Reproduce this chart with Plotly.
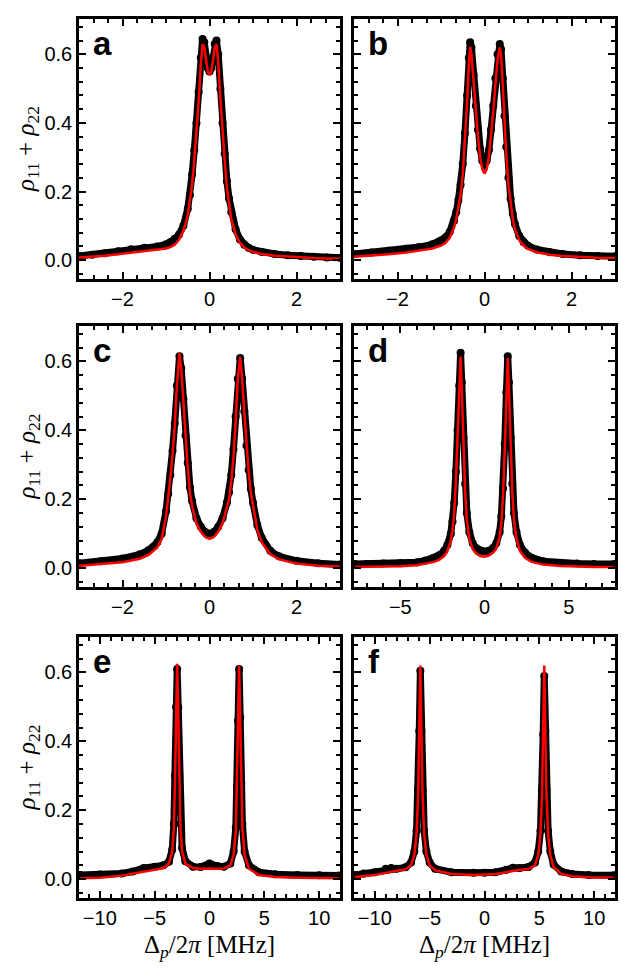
import plotly.graph_objs as go
from plotly.subplots import make_subplots

# panel a
a_x = [-3.0, -2.7, -2.4, -2.1, -1.8, -1.5, -1.2, -1.0, -0.9, -0.8, -0.7, -0.6, -0.5, -0.45, -0.4, -0.35,
       -0.3, -0.25, -0.2, -0.16, -0.12, -0.08, -0.04, 0.0, 0.04, 0.08, 0.12, 0.16, 0.2, 0.25, 0.3, 0.35,
       0.4, 0.45, 0.5, 0.6, 0.7, 0.8, 0.9, 1.0, 1.2, 1.5, 1.8, 2.1, 2.4, 2.7, 3.0]
a_data = [0.012, 0.016, 0.020, 0.026, 0.032, 0.036, 0.040, 0.046, 0.052, 0.062, 0.075, 0.10, 0.15, 0.19,
          0.25, 0.32, 0.40, 0.49, 0.59, 0.645, 0.635, 0.59, 0.56, 0.55, 0.56, 0.59, 0.63, 0.64, 0.60, 0.50,
          0.40, 0.31, 0.23, 0.18, 0.14, 0.09, 0.06, 0.045, 0.036, 0.030, 0.024, 0.018, 0.014, 0.012, 0.010,
          0.008, 0.007]
a_fit = [0.008, 0.010, 0.013, 0.017, 0.022, 0.026, 0.030, 0.034, 0.038, 0.045, 0.060, 0.085, 0.13, 0.17,
         0.22, 0.29, 0.37, 0.46, 0.57, 0.63, 0.62, 0.58, 0.55, 0.54, 0.55, 0.58, 0.62, 0.63, 0.58, 0.47,
         0.37, 0.29, 0.21, 0.16, 0.12, 0.075, 0.05, 0.037, 0.029, 0.024, 0.018, 0.013, 0.010, 0.008, 0.006,
         0.005, 0.004]

# panel b
b_x = [-3.0, -2.6, -2.2, -1.8, -1.5, -1.2, -1.0, -0.9, -0.8, -0.7, -0.65, -0.6, -0.55, -0.5, -0.45, -0.4,
       -0.36, -0.33, -0.3, -0.25, -0.2, -0.15, -0.1, -0.05, 0.0, 0.05, 0.1, 0.15, 0.2, 0.25, 0.3, 0.35,
       0.38, 0.42, 0.46, 0.5, 0.55, 0.6, 0.65, 0.7, 0.8, 0.9, 1.0, 1.2, 1.5, 1.8, 2.2, 2.6, 3.0]
b_data = [0.018, 0.022, 0.027, 0.033, 0.038, 0.046, 0.056, 0.066, 0.082, 0.115, 0.14, 0.175, 0.22, 0.28,
          0.37, 0.48, 0.59, 0.635, 0.62, 0.54, 0.45, 0.38, 0.325, 0.29, 0.28, 0.29, 0.32, 0.38, 0.45, 0.53,
          0.60, 0.63, 0.615, 0.53, 0.42, 0.33, 0.24, 0.18, 0.135, 0.105, 0.07, 0.052, 0.042, 0.031, 0.023,
          0.018, 0.014, 0.012, 0.011]
b_fit = [0.010, 0.013, 0.017, 0.022, 0.027, 0.034, 0.042, 0.05, 0.065, 0.095, 0.12, 0.15, 0.19, 0.25,
         0.34, 0.46, 0.57, 0.622, 0.60, 0.52, 0.43, 0.36, 0.30, 0.265, 0.253, 0.265, 0.30, 0.36, 0.43, 0.51,
         0.585, 0.62, 0.60, 0.51, 0.40, 0.31, 0.22, 0.16, 0.12, 0.09, 0.058, 0.042, 0.033, 0.023, 0.016,
         0.012, 0.009, 0.007, 0.006]

# panel c
c_x = [-3.0, -2.5, -2.0, -1.6, -1.4, -1.2, -1.1, -1.0, -0.95, -0.9, -0.85, -0.8, -0.75, -0.69, -0.65, -0.6,
       -0.55, -0.5, -0.45, -0.4, -0.3, -0.2, -0.1, 0.0, 0.1, 0.2, 0.3, 0.4, 0.45, 0.5, 0.55, 0.6, 0.65,
       0.705, 0.75, 0.8, 0.85, 0.9, 0.95, 1.0, 1.1, 1.2, 1.4, 1.6, 2.0, 2.5, 3.0]
c_data = [0.014, 0.02, 0.028, 0.04, 0.052, 0.075, 0.10, 0.165, 0.215, 0.27, 0.34, 0.42, 0.53, 0.615, 0.58,
          0.49, 0.385, 0.305, 0.235, 0.195, 0.145, 0.12, 0.105, 0.10, 0.105, 0.12, 0.145, 0.19, 0.22, 0.27,
          0.345, 0.44, 0.55, 0.61, 0.55, 0.455, 0.355, 0.285, 0.23, 0.19, 0.125, 0.088, 0.05, 0.034, 0.021,
          0.014, 0.01]
c_fit = [0.007, 0.011, 0.017, 0.027, 0.038, 0.06, 0.085, 0.15, 0.20, 0.26, 0.33, 0.41, 0.53, 0.624, 0.58,
         0.48, 0.37, 0.29, 0.22, 0.18, 0.13, 0.105, 0.09, 0.085, 0.09, 0.105, 0.13, 0.175, 0.20, 0.25,
         0.32, 0.42, 0.55, 0.613, 0.55, 0.45, 0.35, 0.28, 0.22, 0.18, 0.11, 0.075, 0.04, 0.025, 0.013,
         0.007, 0.004]

# panel d
d_x = [-7.7, -7.0, -6.0, -5.0, -4.0, -3.5, -3.0, -2.7, -2.4, -2.2, -2.0, -1.9, -1.8, -1.7, -1.6, -1.5,
       -1.42, -1.35, -1.25, -1.15, -1.05, -0.9, -0.7, -0.5, -0.25, 0.0, 0.25, 0.5, 0.7, 0.9, 1.0, 1.1,
       1.2, 1.3, 1.38, 1.45, 1.55, 1.65, 1.75, 1.9, 2.1, 2.4, 2.8, 3.5, 4.5, 5.5, 6.5, 7.7]
d_data = [0.012, 0.012, 0.013, 0.014, 0.017, 0.022, 0.03, 0.037, 0.05, 0.068, 0.10, 0.135, 0.19, 0.28,
          0.40, 0.53, 0.625, 0.54, 0.38, 0.245, 0.16, 0.105, 0.072, 0.058, 0.05, 0.048, 0.05, 0.058, 0.072,
          0.105, 0.15, 0.23, 0.36, 0.51, 0.615, 0.54, 0.38, 0.245, 0.16, 0.105, 0.068, 0.045, 0.03, 0.02,
          0.015, 0.013, 0.012, 0.012]
d_fit = [0.003, 0.003, 0.004, 0.005, 0.008, 0.012, 0.018, 0.024, 0.035, 0.05, 0.08, 0.11, 0.16, 0.25,
         0.38, 0.52, 0.614, 0.52, 0.36, 0.22, 0.14, 0.085, 0.055, 0.042, 0.035, 0.033, 0.036, 0.044, 0.057,
         0.09, 0.13, 0.21, 0.34, 0.50, 0.61, 0.52, 0.36, 0.22, 0.14, 0.085, 0.05, 0.03, 0.018, 0.01, 0.006,
         0.004, 0.003, 0.003]

# panel e
e_x = [-11.8, -10.0, -8.0, -7.0, -6.0, -5.0, -4.2, -3.7, -3.4, -3.25, -3.15, -3.05, -2.95, -2.85, -2.75,
       -2.65, -2.5, -2.2, -1.5, -0.8, 0.0, 0.7, 1.3, 1.9, 2.2, 2.4, 2.5, 2.6, 2.7, 2.8, 2.9, 3.0, 3.2,
       3.6, 4.5, 6.0, 8.0, 10.0, 11.8]
e_data = [0.012, 0.013, 0.016, 0.022, 0.032, 0.036, 0.04, 0.05, 0.085, 0.16, 0.30, 0.50, 0.61, 0.50,
          0.30, 0.16, 0.09, 0.052, 0.036, 0.035, 0.045, 0.038, 0.036, 0.045, 0.08, 0.15, 0.27, 0.46, 0.61,
          0.47, 0.28, 0.16, 0.08, 0.04, 0.02, 0.014, 0.012, 0.011, 0.01]
e_fit = [0.002, 0.004, 0.010, 0.015, 0.022, 0.027, 0.032, 0.045, 0.08, 0.15, 0.28, 0.48, 0.625, 0.48,
         0.28, 0.15, 0.08, 0.045, 0.032, 0.030, 0.030, 0.030, 0.031, 0.04, 0.07, 0.14, 0.26, 0.45, 0.62,
         0.46, 0.27, 0.15, 0.07, 0.03, 0.012, 0.006, 0.004, 0.003, 0.002]

# panel f
f_x = [-11.8, -11.0, -10.0, -9.0, -8.5, -8.0, -7.2, -6.7, -6.4, -6.2, -6.05, -5.95, -5.85, -5.75, -5.65,
       -5.5, -5.3, -5.0, -4.5, -3.0, -1.0, 0.0, 1.0, 2.0, 2.6, 3.2, 4.0, 4.6, 4.9, 5.1, 5.25, 5.35, 5.45,
       5.55, 5.65, 5.8, 6.0, 6.3, 7.0, 8.0, 9.5, 11.8]
f_data = [0.012, 0.016, 0.02, 0.03, 0.032, 0.03, 0.034, 0.048, 0.08, 0.14, 0.26, 0.43, 0.605, 0.43, 0.26,
          0.14, 0.08, 0.048, 0.03, 0.02, 0.018, 0.018, 0.02, 0.027, 0.033, 0.032, 0.035, 0.048, 0.08, 0.14,
          0.26, 0.42, 0.59, 0.43, 0.26, 0.14, 0.08, 0.042, 0.022, 0.015, 0.012, 0.011]
f_fit = [0.006, 0.008, 0.012, 0.018, 0.022, 0.024, 0.028, 0.04, 0.07, 0.13, 0.25, 0.42, 0.62, 0.42, 0.25,
         0.13, 0.07, 0.04, 0.025, 0.015, 0.012, 0.013, 0.015, 0.02, 0.024, 0.027, 0.029, 0.04, 0.07, 0.13,
         0.25, 0.42, 0.62, 0.42, 0.25, 0.13, 0.07, 0.035, 0.015, 0.008, 0.005, 0.004]

panels = [
    ('a', a_x, a_data, a_fit, 1, 1),
    ('b', b_x, b_data, b_fit, 1, 2),
    ('c', c_x, c_data, c_fit, 2, 1),
    ('d', d_x, d_data, d_fit, 2, 2),
    ('e', e_x, e_data, e_fit, 3, 1),
    ('f', f_x, f_data, f_fit, 3, 2),
]
x_ranges = {'a': [-3, 3], 'b': [-3, 3], 'c': [-3, 3], 'd': [-7.75, 7.75], 'e': [-11.9, 11.9], 'f': [-11.9, 11.9]}
x_major = {'a': 2, 'b': 2, 'c': 2, 'd': 5, 'e': 5, 'f': 5}
x_minor = {'a': 1 / 3, 'b': 1 / 3, 'c': 1 / 3, 'd': 1, 'e': 1, 'f': 1}

W, H = 642, 979
col_px = {1: (79, 340), 2: (354, 615)}
row_px = {1: (19, 279), 2: (326, 587), 3: (637, 898)}

tick_font = dict(family='Liberation Sans, Arial', size=20, color='black')
serif = 'Liberation Serif, DejaVu Serif'

fig = make_subplots(rows=3, cols=2)

for i, (lab, xs, ys, fit, r, c) in enumerate(panels):
    # measured points: dense black band
    fig.add_trace(go.Scatter(x=xs, y=ys, mode='lines+markers',
                             line=dict(color='black', width=7),
                             marker=dict(color='black', size=8),
                             showlegend=False), row=r, col=c)
    # fit curve on top
    fig.add_trace(go.Scatter(x=xs, y=fit, mode='lines',
                             line=dict(color='#ff0000', width=2.5),
                             showlegend=False), row=r, col=c)

    n = '' if i == 0 else str(i + 1)
    x0, x1 = col_px[c]
    y0, y1 = row_px[r]
    fig.layout['xaxis' + n].update(
        domain=[x0 / W, x1 / W], range=x_ranges[lab],
        showline=True, linecolor='black', linewidth=2.5, mirror='ticks',
        ticks='inside', ticklen=7, tickwidth=2, tickcolor='black',
        tick0=0, dtick=x_major[lab], tickfont=tick_font, showgrid=False, zeroline=False,
        minor=dict(ticks='inside', ticklen=4, tickwidth=2, tickcolor='black', tick0=0,
                   dtick=x_minor[lab], showgrid=False))
    fig.layout['yaxis' + n].update(
        domain=[1 - y1 / H, 1 - y0 / H], range=[-0.055, 0.703],
        showline=True, linecolor='black', linewidth=2.5, mirror='ticks',
        ticks='inside', ticklen=7, tickwidth=2, tickcolor='black',
        tick0=0, dtick=0.2, tickformat='.1f', tickfont=tick_font,
        showticklabels=(c == 1), showgrid=False, zeroline=False,
        minor=dict(ticks='inside', ticklen=4, tickwidth=2, tickcolor='black', tick0=0,
                   dtick=0.04, showgrid=False))

    # panel letter
    fig.add_annotation(text='<b>' + lab + '</b>', xref='x' + n + ' domain', yref='y' + n + ' domain',
                       x=0.045, y=0.985, xanchor='left', yanchor='top', showarrow=False,
                       font=dict(family='Liberation Sans, Arial', size=33, color='black'))

    if c == 1:
        fig.add_annotation(text='<i>ρ</i><sub>11</sub> + <i>ρ</i><sub>22</sub>',
                           xref='paper', yref='y' + n + ' domain', x=28 / W, y=0.5,
                           xanchor='center', yanchor='middle', textangle=-90, showarrow=False,
                           font=dict(family=serif, size=25, color='black'))
    if r == 3:
        fig.add_annotation(text='Δ<sub><i>p</i></sub>/2<i>π</i> [MHz]',
                           xref='x' + n + ' domain', yref='paper', x=0.5, y=1 - 946 / H,
                           xanchor='center', yanchor='middle', showarrow=False,
                           font=dict(family=serif, size=25, color='black'))

fig.update_layout(width=W, height=H, margin=dict(l=0, r=0, t=0, b=0),
                  plot_bgcolor='white', paper_bgcolor='white')

# drop the browser's default page margin so the figure sits at the window corner
fig.write_html("out.html", config={'displayModeBar': False},
               post_script="document.body.style.margin = '0';")
